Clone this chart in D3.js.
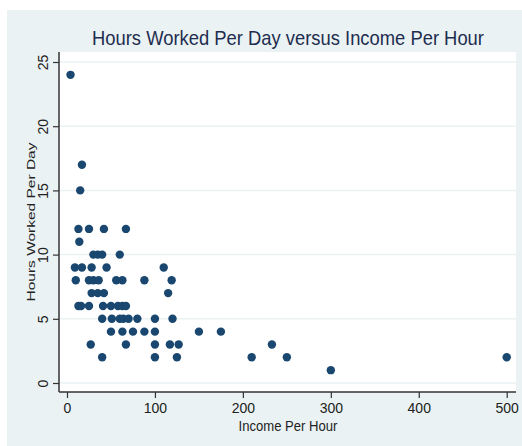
<!DOCTYPE html>
<html>
<head>
<meta charset="utf-8">
<script src="https://cdn.jsdelivr.net/npm/d3@7"></script>
<style>
  body { margin: 0; background: #fff; }
  text { font-family: "Liberation Sans", Arial, sans-serif; }
</style>
</head>
<body>
<svg id="chart" width="522" height="446"></svg>
<script>
// income per hour (x) and hours worked per day (y)
var income = [
    4,
    17, 15,
    13, 25, 42, 67,
    14,
    30, 35, 40, 60,
    9, 17, 28, 45, 110,
    10, 25, 30, 36, 56, 63, 88, 119,
    28, 35, 42, 115,
    13, 16, 25, 41, 50, 58, 63, 67,
    40, 51, 60, 64, 70, 80, 100, 120,
    50, 63, 75, 88, 100, 150, 175,
    27, 67, 100, 117, 127, 233,
    40, 100, 125, 210, 250, 500,
    300
];
var hours = [
    24,
    17, 15,
    12, 12, 12, 12,
    11,
    10, 10, 10, 10,
    9, 9, 9, 9, 9,
    8, 8, 8, 8, 8, 8, 8, 8,
    7, 7, 7, 7,
    6, 6, 6, 6, 6, 6, 6, 6,
    5, 5, 5, 5, 5, 5, 5, 5,
    4, 4, 4, 4, 4, 4, 4,
    3, 3, 3, 3, 3, 3,
    2, 2, 2, 2, 2, 2,
    1
];
var xTicks = [0, 100, 200, 300, 400, 500];
var yTicks = [0, 5, 10, 15, 20, 25];

var title = 'Hours Worked Per Day versus Income Per Hour';
var xTitle = 'Income Per Hour';
var yTitle = 'Hours Worked Per Day';

var svg = d3.select('#chart');
var plot = {left: 59, right: 516, top: 52, bottom: 392};

var x = d3.scaleLinear().domain([0, 500]).range([67, 506.7]);
var y = d3.scaleLinear().domain([0, 25]).range([383, 62]);

// stata-ish background
svg.append('rect')
    .attr('x', 7).attr('y', 10)
    .attr('width', 515).attr('height', 436)
    .attr('fill', '#eaf2f3');

svg.append('rect')
    .attr('x', plot.left).attr('y', plot.top)
    .attr('width', plot.right - plot.left)
    .attr('height', plot.bottom - plot.top)
    .attr('fill', '#ffffff');

// gridlines
svg.append('g').selectAll('line')
    .data(yTicks).enter()
    .append('line')
    .attr('x1', plot.left).attr('x2', plot.right)
    .attr('y1', function(d){ return y(d); })
    .attr('y2', function(d){ return y(d); })
    .attr('stroke', '#eaf2f3')
    .attr('stroke-width', 1.5);

// axes
var yAxis = svg.append('g')
    .attr('transform', 'translate(' + plot.left + ',0)')
    .call(d3.axisLeft(y).tickValues(yTicks).tickSize(6).tickPadding(5));

// tick labels stand on their side, like stata does it
yAxis.selectAll('text')
    .attr('x', -11)
    .attr('y', 0)
    .attr('dy', '0')
    .attr('transform', 'rotate(-90,-11,0)')
    .style('text-anchor', 'middle')
    .style('font-size', '14px')
    .attr('fill', '#222');

var xAxis = svg.append('g')
    .attr('transform', 'translate(0,' + plot.bottom + ')')
    .call(d3.axisBottom(x).tickValues(xTicks).tickSize(6).tickPadding(5));

xAxis.selectAll('text')
    .style('font-size', '14px')
    .attr('fill', '#222');

[yAxis, xAxis].forEach(function(ax){
    ax.select('.domain').remove();
    ax.selectAll('line').attr('stroke', '#333').attr('stroke-width', 1.2);
});

svg.append('line')
    .attr('x1', plot.left).attr('x2', plot.left)
    .attr('y1', plot.top).attr('y2', plot.bottom)
    .attr('stroke', '#333').attr('stroke-width', 1.5);

svg.append('line')
    .attr('x1', plot.left).attr('x2', plot.right)
    .attr('y1', plot.bottom).attr('y2', plot.bottom)
    .attr('stroke', '#333').attr('stroke-width', 1.5);

// points
svg.append('g').selectAll('circle')
    .data(income).enter()
    .append('circle')
    .attr('cx', function(d){ return x(d); })
    .attr('cy', function(d, i){ return y(hours[i]); })
    .attr('r', 4.2)
    .attr('fill', '#1a476f');

// titles (glyphs stretched a bit, the original is not drawn at 1:1)
svg.append('text')
    .attr('transform', 'translate(288,45) scale(1,1.12)')
    .style('font-size', '18.4px')
    .style('text-anchor', 'middle')
    .attr('fill', '#1e2d4f')
    .text(title);

svg.append('text')
    .attr('transform', 'translate(288,430.5) scale(1,1.1)')
    .style('font-size', '13.1px')
    .style('text-anchor', 'middle')
    .attr('fill', '#222')
    .text(xTitle);

svg.append('text')
    .attr('transform', 'translate(34.5,222) rotate(-90) scale(1,0.74)')
    .style('font-size', '15.5px')
    .style('text-anchor', 'middle')
    .attr('fill', '#222')
    .text(yTitle);
</script>
</body>
</html>
